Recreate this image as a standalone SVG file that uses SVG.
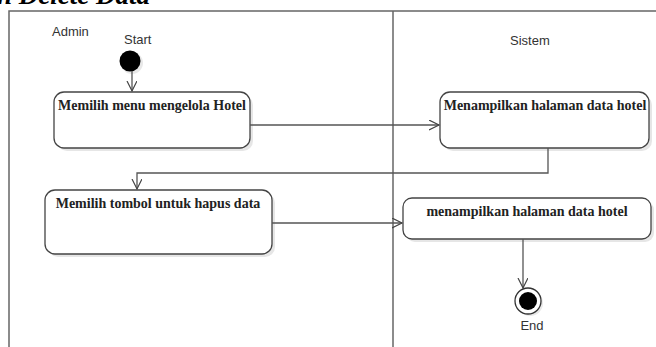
<svg xmlns="http://www.w3.org/2000/svg" width="656" height="347" viewBox="0 0 656 347">
<style>
.frame{fill:none;stroke:#666;stroke-width:1.5}
.lane{fill:#333;font-family:"Liberation Sans",Arial,sans-serif;font-size:13px}
.box{fill:#fff;stroke:#444;stroke-width:1.3}
.shadow{fill:#e6e6e6}
.lbl{fill:#222;font-family:"Liberation Serif","Times New Roman",serif;font-size:14px;font-weight:bold;text-anchor:middle}
.conn{fill:none;stroke:#555;stroke-width:1.3}
.title{fill:#000;font-family:"Liberation Serif","Times New Roman",serif;font-size:27px;font-weight:bold;font-style:italic}
</style>
<defs>
<marker id="arr" markerWidth="12" markerHeight="12" refX="10" refY="5" orient="auto" markerUnits="userSpaceOnUse">
<path d="M0,0 L10,5 L0,10" fill="none" stroke="#444" stroke-width="1.2"/>
</marker>
</defs>
<rect width="656" height="347" fill="#fff"/>
<text class="title" x="-3" y="4">n Delete Data</text>
<g id="swimlanes">
<path class="frame" d="M9,347 V11 H656"/>
<line class="frame" x1="393" y1="11" x2="393" y2="347"/>
<text class="lane" x="52" y="36" font-size="12">Admin</text>
<text class="lane" x="510" y="45">Sistem</text>
</g>
<g id="start">
<circle cx="132" cy="63" r="11" fill="#e8e8e8"/>
<circle cx="130" cy="61" r="10.5" fill="#000"/>
<text class="lane" x="124" y="44">Start</text>
</g>
<g id="n1">
<rect class="shadow" x="57" y="95" width="196" height="56" rx="10"/>
<rect class="box" x="54" y="92" width="196" height="56" rx="10"/>
<text class="lbl" x="152" y="110">Memilih menu mengelola Hotel</text>
</g>
<g id="n2">
<rect class="shadow" x="443" y="95" width="209" height="56" rx="10"/>
<rect class="box" x="440" y="92" width="209" height="56" rx="10"/>
<text class="lbl" x="545" y="110">Menampilkan halaman data hotel</text>
</g>
<g id="n3">
<rect class="shadow" x="48" y="193" width="227" height="64" rx="10"/>
<rect class="box" x="45" y="190" width="227" height="64" rx="10"/>
<text class="lbl" x="158" y="208">Memilih tombol untuk hapus data</text>
</g>
<g id="n4">
<rect class="shadow" x="406" y="201" width="248" height="41" rx="9"/>
<rect class="box" x="403" y="198" width="248" height="41" rx="9"/>
<text class="lbl" x="527" y="216">menampilkan halaman data hotel</text>
</g>
<g id="end">
<circle cx="530" cy="303" r="13" fill="#e8e8e8"/>
<circle cx="528" cy="301" r="13" fill="#fff" stroke="#333" stroke-width="1.3"/>
<circle cx="528" cy="301" r="9" fill="#000"/>
<text class="lane" x="532" y="330" text-anchor="middle">End</text>
</g>
<g id="connectors">
<path class="conn" d="M132,71 V91" marker-end="url(#arr)"/>
<path class="conn" d="M250,125 H439" marker-end="url(#arr)"/>
<path class="conn" d="M548,148 V173 H137 V189" marker-end="url(#arr)"/>
<path class="conn" d="M272,223 H402" marker-end="url(#arr)"/>
<path class="conn" d="M523,239 V288" marker-end="url(#arr)"/>
</g>
</svg>
